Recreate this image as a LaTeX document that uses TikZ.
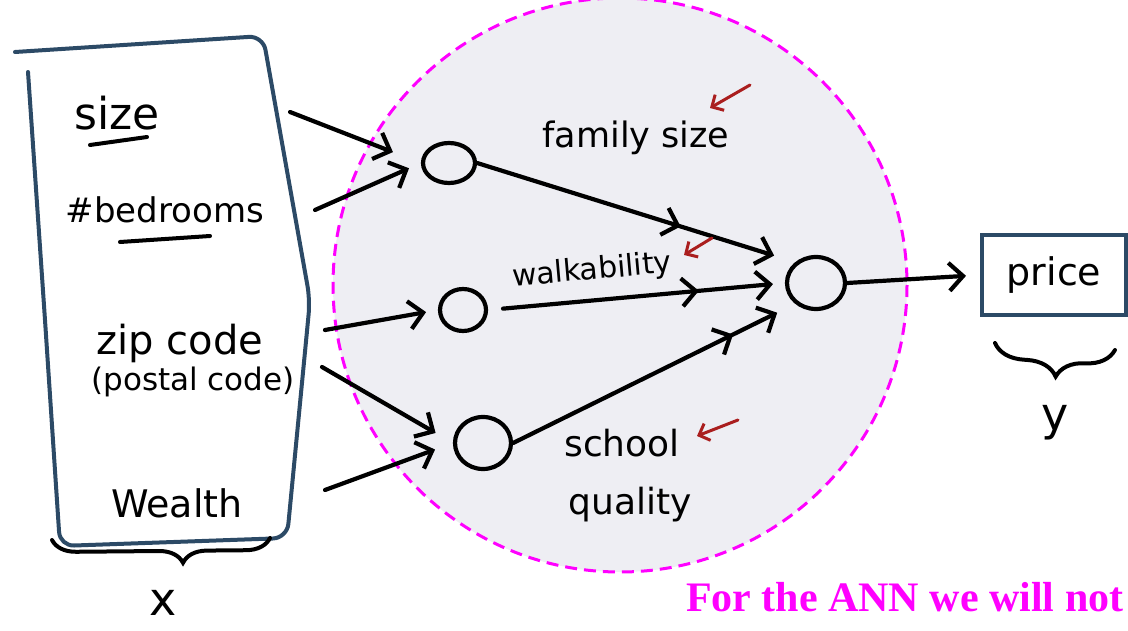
\documentclass[tikz,border=0pt]{standalone}
\usepackage{fontspec}
\setmainfont{DejaVu Sans}
\newfontfamily\slidefont{Liberation Serif}
\usetikzlibrary{arrows.meta,shapes.geometric,decorations.pathreplacing,decorations.markings}

\definecolor{inkblue}{RGB}{44,74,102}
\definecolor{circlefill}{RGB}{238,238,243}
\definecolor{redink}{RGB}{170,30,30}
\definecolor{slidemagenta}{RGB}{255,0,255}

\tikzset{
  scrawl/.style={font=\fontsize{#1}{#1}\selectfont},
  barb/.tip={Straight Barb[length=14pt,width=28pt]},
  wire/.style={line width=4.2pt, line cap=round, line join=round, -barb},
  unit/.style={draw, ellipse, line width=4.2pt, inner sep=0pt},
  midbarb/.style={postaction={decorate},
    decoration={markings, mark=at position #1 with {\arrow{barb}}}},
  hint/.style={draw=redink, line width=3pt, line cap=round,
    -{Straight Barb[length=9pt,width=18pt]}},
  curly/.style={line width=4pt, line cap=round, decorate,
    decoration={brace, mirror, amplitude=#1}},
}

\begin{document}
\begin{tikzpicture}[x=1pt,y=-1pt]
        \useasboundingbox (0,0) rectangle (1128,631);

        %Hidden layer area
        \draw [slidemagenta, line width=3pt, dash pattern=on 12pt off 7pt,
               fill=circlefill] (620,285) circle [radius=287];

        %Input box
        \draw [inkblue, line width=4pt, line cap=round, rounded corners=14pt]
              (15,52) -- (263,36) -- (310,300) -- (287,538) -- (60,546)
              -- (45,320) -- (28,72);

        %Inputs
        \node [scrawl=44] (size)   at (117,113) {size};
        \draw [line width=4pt, line cap=round] (90,145) -- (147,137);
        \node [scrawl=34] (beds)   at (165,210) {\#bedrooms};
        \draw [line width=4pt, line cap=round] (120,242) -- (210,236);
        \node [scrawl=40] (zip)    at (180,343) {zip code};
        \node [scrawl=31] (postal) at (193,382) {(postal code)};
        \node [scrawl=38] (wealth) at (177,503) {Wealth};

        %Brace x
        \draw [curly=24pt, decoration={aspect=0.6}] (52,540) -- (270,538);
        \node [scrawl=46] (xin) at (163,603) {x};

        %Hidden units
        \node [unit, minimum width=52, minimum height=40] (h1)   at (449,163) {};
        \node [unit, minimum width=46, minimum height=42] (h2)   at (463,310) {};
        \node [unit, minimum width=56, minimum height=52] (h3)   at (483,443) {};
        \node [unit, minimum width=58, minimum height=52] (pred) at (816,283) {};

        %Input arrows
        \coordinate (in1) at (290,112);
        \coordinate (in2) at (315,210);
        \coordinate (in3) at (325,330);
        \coordinate (in4) at (322,367);
        \coordinate (in5) at (325,490);
        \draw [wire, shorten >=30pt] (in1) -- (h1.west);
        \draw [wire, shorten >=13pt] (in2) -- (h1.west);
        \draw [wire, shorten >=12pt] (in3) -- (h2.west);
        \draw [wire, shorten >=20pt] (in4) -- (h3.west);
        \draw [wire, shorten >=19pt] (in5) -- (h3.west);

        %Hidden arrows
        \draw [wire, midbarb=0.64, shorten >=22pt] (h1.east) -- (pred.135);
        \draw [wire, midbarb=0.71, shorten <=15pt, shorten >=12pt] (h2.east) -- (pred.west);
        \draw [wire, midbarb=0.78, shorten >=20pt] (h3.east) -- (pred.225);

        %Output
        \node [draw=inkblue, line width=4pt, minimum width=144, minimum height=80,
               scrawl=38] (price) at (1054,275) {price};
        \draw [wire, shorten >=14pt] (pred.east) -- (price.west);

        %Brace y
        \draw [curly=30pt, decoration={aspect=0.52}] (995,343) -- (1115,350);
        \node [scrawl=46] (yout) at (1055,423) {y};

        %Feature labels
        \node [scrawl=35] (family)  at (636,138) {family size};
        \node [scrawl=30, rotate=5] (walk) at (592,271) {walkability};
        \node [scrawl=36] (school)  at (622,443) {school};
        \node [scrawl=36] (quality) at (630,505) {quality};

        %Red hints
        \coordinate (r1a) at (750,85);  \coordinate (r1b) at (710,108);
        \coordinate (r2a) at (712,238); \coordinate (r2b) at (684,255);
        \coordinate (r3a) at (738,420); \coordinate (r3b) at (697,436);
        \draw [hint] (r1a) -- (r1b);
        \draw [hint] (r2a) -- (r2b);
        \draw [hint] (r3a) -- (r3b);

        %Caption
        \node [anchor=base east, text=slidemagenta,
               font=\slidefont\bfseries\fontsize{42}{42}\selectfont]
              (caption) at (1127,611) {For the ANN we will not};
\end{tikzpicture}
\end{document}
